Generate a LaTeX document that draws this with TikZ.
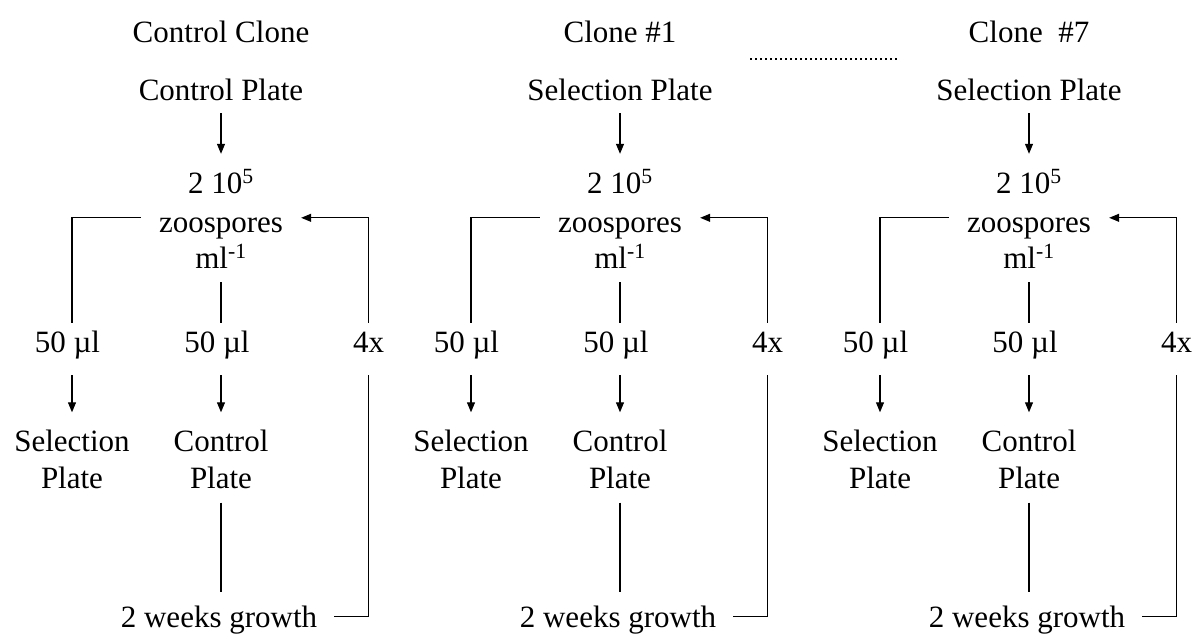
\documentclass[tikz,border=0pt]{standalone}
\usepackage{fontspec}
\setmainfont{Liberation Serif}
\usetikzlibrary{arrows.meta}

\begin{document}
\begin{tikzpicture}[x=1pt, y=-1pt,
    txt/.style={inner sep=0pt, anchor=base, font=\fontsize{31}{37}\selectfont},
    one/.style={txt, text height=21pt, text depth=0pt},
    two/.style={txt, align=center},
    ln/.style={line width=1.1pt},
    arr/.style={ln, -{Triangle[length=10pt,width=8pt]}}]
  \useasboundingbox (0,0) rectangle (1195,633);

  % one column per clone
  \foreach \X/\c/\ttl/\plt in {221/a/Control Clone/Control Plate,
                               620/b/Clone \#1/Selection Plate,
                               1029/c/Clone\ \ \#7/Selection Plate} {
    \node[one] (\c-title) at (\X,42) {\ttl};
    \node[one] (\c-plate) at (\X,100) {\plt};
    \node[one] (\c-num) at (\X,193) {2 10\textsuperscript{5}};
    \node[one, text height=14pt, inner xsep=18pt] (\c-zoo) at (\X,232) {zoospores};
    \node[one] (\c-ml) at (\X,268) {ml\textsuperscript{-1}};
    \node[one] (\c-lvol) at (\X-153.5,352) {50 µl};
    \node[one] (\c-cvol) at (\X-4,352) {50 µl};
    \node[one] (\c-rep) at (\X+147.5,352) {4x};
    \node[two] (\c-sel) at (\X-149,488) {Selection\\Plate};
    \node[two] (\c-ctl) at (\X,488) {Control\\Plate};
    \node[one] (\c-grow) at (\X-2,627) {2 weeks growth};

    \draw[arr, shorten <=13pt, shorten >=18pt] (\c-plate.south) -- (\c-num.north);
    % split into the two plates
    \draw[ln, shorten >=8pt] (\c-zoo.north west) -| (\c-sel |- \c-lvol.north);
    \draw[ln, shorten <=14pt, shorten >=8pt] (\c-ml.south) -- (\c-ml.south |- \c-cvol.north);
    \draw[arr, shorten <=23pt, shorten >=17pt] (\c-lvol.south -| \c-sel) -- (\c-sel.north);
    \draw[arr, shorten <=23pt, shorten >=17pt] (\c-cvol.south -| \c-ctl) -- (\c-ctl.north);
    \draw[ln, shorten <=14pt, shorten >=14pt] (\c-ctl.south) -- (\c-ctl.south |- \c-grow.north);
    % repeat loop
    \draw[ln, shorten <=23pt, shorten >=17pt] (\c-rep.south) |- (\c-grow.east);
    \draw[arr, shorten <=8pt] (\c-rep.north) |- (\c-zoo.north east);
  }

  \coordinate (dotL) at (750,59);
  \coordinate (dotR) at (899,59);
  \draw[line width=2pt, dash pattern=on 2pt off 3pt] (dotL) -- (dotR);
\end{tikzpicture}
\end{document}
